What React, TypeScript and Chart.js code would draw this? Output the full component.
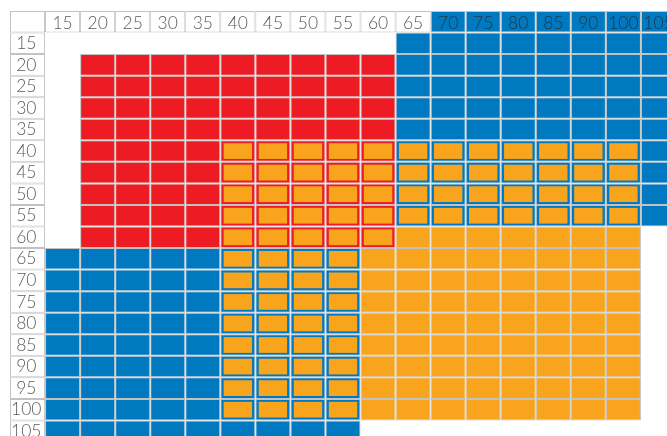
import React, { useEffect, useRef } from 'react';
import { Chart, registerables } from 'chart.js';

Chart.register(...registerables);

// Column headers (note: the reference skips 95 in the header row)
const colLabels = ['15', '20', '25', '30', '35', '40', '45', '50', '55', '60', '65', '70', '75', '80', '85', '90', '100', '105'];
// Row headers
const rowLabels = ['15', '20', '25', '30', '35', '40', '45', '50', '55', '60', '65', '70', '75', '80', '85', '90', '95', '100', '105'];

// Regions, given as [first, last] label ranges
const redCols = ['20', '60'];
const redRows = ['20', '60'];
const blueTopCols = ['65', '105'];
const blueTopRows = ['15', '55'];
const blueHeaderCols = ['70', '105'];
const blueBottomCols = ['15', '55'];
const blueBottomRows = ['65', '105'];
const orangeCols = ['40', '100'];
const orangeRows = ['40', '100'];

const RED = '#ed1c24';
const BLUE = '#0079c1';
const ORANGE = '#f8a51d';
const WHITE = '#ffffff';
const LINE = '#c2c2c2';
const TEXT = 'rgba(35,35,35,0.75)';
const FONT = { family: 'Lato', size: 17.5, weight: '300' as any };

function within(labels: string[], range: string[], label: string) {
  const i = labels.indexOf(label);
  return i >= labels.indexOf(range[0]) && i <= labels.indexOf(range[1]);
}

export default function App() {
  const ref = useRef<HTMLCanvasElement | null>(null);

  useEffect(() => {
    const canvas = ref.current;
    if (!canvas) return;

    const xLabels = ['', ...colLabels];
    const nRows = rowLabels.length + 1;

    const baseSets: any[] = [];
    const innerSets: any[] = [];
    for (let ri = 0; ri < nRows; ri++) {
      const colors: (string | null)[] = [];
      const inner: boolean[] = [];
      xLabels.forEach((xl, ci) => {
        let color: string | null = null;
        let isInner = false;
        if (ri === 0 || ci === 0) {
          color = WHITE;
          if (ri === 0 && ci > 0 && within(colLabels, blueHeaderCols, xl)) color = BLUE;
        } else {
          const rl = rowLabels[ri - 1];
          const inRed = within(colLabels, redCols, xl) && within(rowLabels, redRows, rl);
          const inBT = within(colLabels, blueTopCols, xl) && within(rowLabels, blueTopRows, rl);
          const inBB = within(colLabels, blueBottomCols, xl) && within(rowLabels, blueBottomRows, rl);
          const inOr = within(colLabels, orangeCols, xl) && within(rowLabels, orangeRows, rl);
          if (inRed) color = RED;
          else if (inBT || inBB) color = BLUE;
          else if (inOr) color = ORANGE;
          isInner = inOr && (inRed || inBT || inBB);
        }
        colors.push(color);
        inner.push(isInner);
      });
      baseSets.push({
        data: colors.map((c) => (c ? [ri, ri + 1] : null)),
        backgroundColor: colors.map((c) => c || WHITE),
        borderColor: LINE,
        borderWidth: 1,
        borderSkipped: false,
        inflateAmount: 0,
        barPercentage: 1,
        categoryPercentage: 1,
        order: 2,
      });
      if (inner.some(Boolean)) {
        innerSets.push({
          data: inner.map((v) => (v ? [ri + 0.135, ri + 0.865] : null)),
          backgroundColor: ORANGE,
          borderWidth: 0,
          inflateAmount: 0,
          barPercentage: 0.81,
          categoryPercentage: 1,
          order: 1,
        });
      }
    }

    // measure widest row label to center labels in the first column
    const mctx = document.createElement('canvas').getContext('2d')!;
    mctx.font = `normal 300 ${FONT.size}px ${FONT.family}`;
    const widest = Math.max(...rowLabels.map((l) => mctx.measureText(l).width));
    const colW = 35;
    const yPad = colW / 2 - 1.2 - widest / 2;

    const chart = new Chart(canvas, {
      type: 'bar',
      data: { labels: xLabels, datasets: [...innerSets, ...baseSets] },
      options: {
        responsive: false,
        animation: false,
        layout: { padding: { left: 10, top: 11, right: 0, bottom: 0 } },
        datasets: { bar: { grouped: false } },
        plugins: { legend: { display: false }, tooltip: { enabled: false }, title: { display: false } },
        scales: {
          x: {
            type: 'category',
            position: 'top',
            offset: true,
            grid: { display: false },
            border: { display: false },
            ticks: {
              mirror: true,
              padding: 2.2,
              autoSkip: false,
              maxRotation: 0,
              minRotation: 0,
              font: FONT,
              color: TEXT,
              z: 1,
            },
            afterFit: (s: any) => {
              s.height = 0;
              s.paddingLeft = 0;
              s.paddingRight = 0;
            },
          },
          y: {
            type: 'linear',
            reverse: true,
            min: 0,
            max: nRows,
            position: 'left',
            grid: { display: false },
            border: { display: false },
            afterBuildTicks: (s: any) => {
              s.ticks = rowLabels.map((_, i) => ({ value: i + 1.5 }));
            },
            ticks: {
              mirror: true,
              crossAlign: 'center',
              padding: yPad,
              autoSkip: false,
              font: FONT,
              color: TEXT,
              z: 1,
              callback: (_v: any, i: number) => rowLabels[i],
            },
            afterFit: (s: any) => {
              s.width = 0;
              s.paddingTop = 0;
              s.paddingBottom = 0;
            },
          },
        },
      } as any,
    });
    return () => chart.destroy();
  }, []);

  return (
    <div style={{ position: 'absolute', left: 0, top: 0, width: 667, height: 436, overflow: 'hidden', background: '#fff' }}>
      <canvas ref={ref} width={676} height={442} style={{ width: 676, height: 442, display: 'block' }} />
    </div>
  );
}
